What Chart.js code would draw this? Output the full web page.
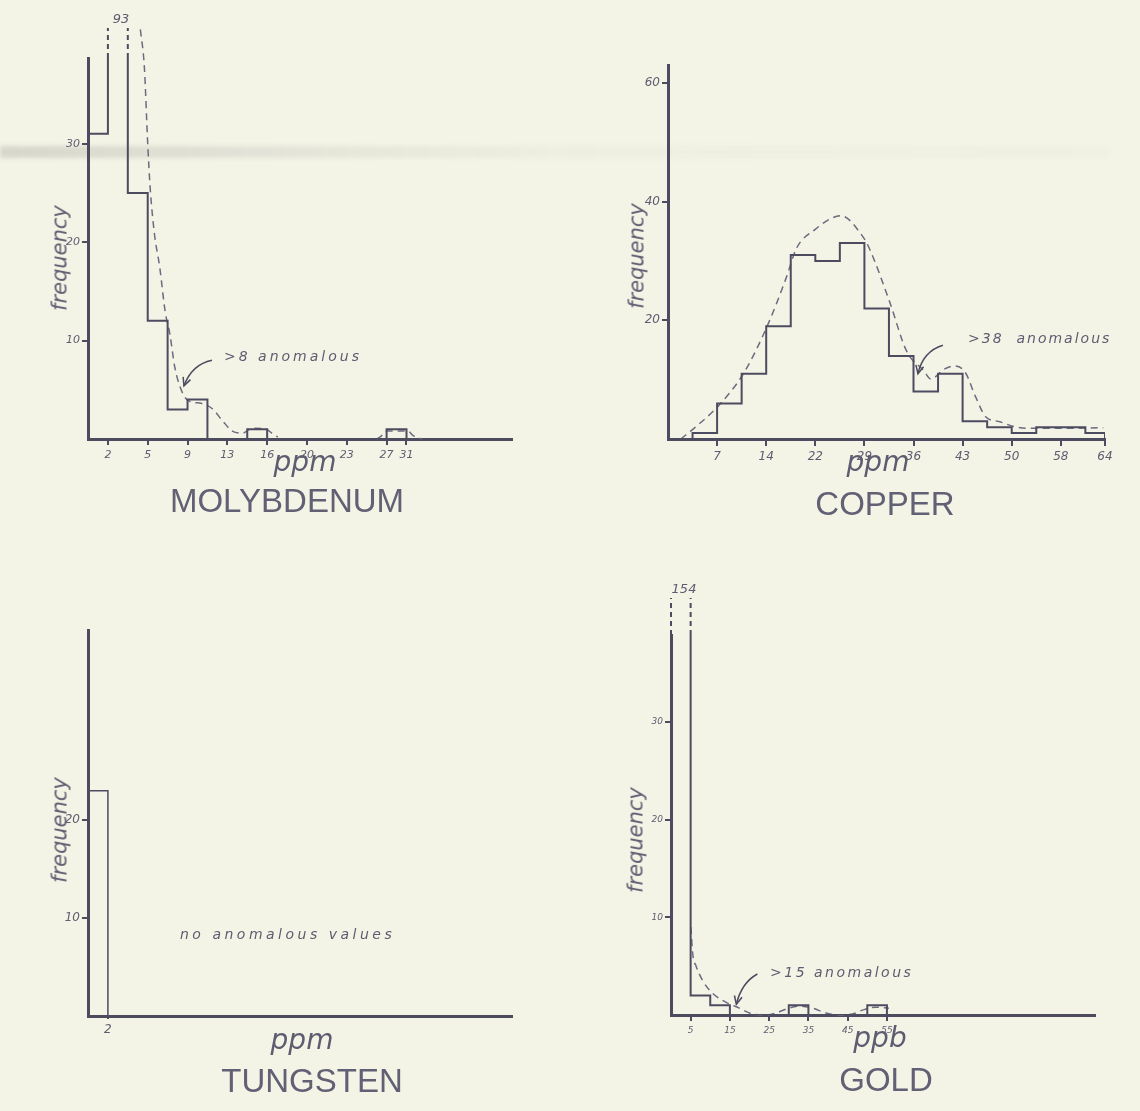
<!DOCTYPE html>
<html lang="en">
<head>
<meta charset="UTF-8">
<title>Frequency histograms - Mo, Cu, W, Au</title>
<script src="https://cdn.jsdelivr.net/npm/chart.js"></script>
<style>
  body { margin: 0; background: #f4f4e6; }
  #page { position: relative; width: 1140px; height: 1111px; overflow: hidden; background: #f4f4e6; }
  canvas.panel { position: absolute; left: 0; top: 0; }
  .t { position: absolute; color: #5e5c70; white-space: pre; line-height: 1; }
  .title { font-family: "Liberation Sans", Arial, sans-serif; font-size: 33px; color: #626074; transform: translate(-50%, -50%); }
  .freq { font-family: "DejaVu Sans", sans-serif; font-style: italic; font-size: 21px; transform: translate(-50%, -50%) rotate(-90deg); }
  .unit { font-family: "DejaVu Sans", sans-serif; font-style: italic; font-size: 28px; transform: translate(-50%, -50%); }
  .note { font-family: "DejaVu Sans", sans-serif; font-style: italic; font-size: 14px; letter-spacing: 3px; transform: translateY(-50%); }
  .top { font-family: "DejaVu Sans", sans-serif; font-style: italic; font-size: 13px; transform: translate(-50%, -50%); }
  .smudge { position: absolute; filter: blur(2px);
    background: linear-gradient(90deg, rgba(110,110,110,.22) 0%, rgba(130,130,130,.14) 25%, rgba(150,150,150,.06) 50%, rgba(150,150,150,.03) 100%); }
</style>
</head>
<body>
<div id="page">
  <div class="smudge" style="left:0;top:146px;width:1110px;height:12px"></div>

  <canvas class="panel" id="moChart" width="1140" height="1111"></canvas>
  <canvas class="panel" id="cuChart" width="1140" height="1111"></canvas>
  <canvas class="panel" id="wChart" width="1140" height="1111"></canvas>
  <canvas class="panel" id="auChart" width="1140" height="1111"></canvas>

  <!-- molybdenum -->
  <div class="t top" style="left:121px;top:18px">93</div>
  <div class="t freq" style="left:60px;top:258px">frequency</div>
  <div class="t unit" style="left:305px;top:462px">ppm</div>
  <div class="t title" style="left:287px;top:500px">MOLYBDENUM</div>
  <div class="t note" style="left:224px;top:356px">&gt;8 anomalous</div>

  <!-- copper -->
  <div class="t freq" style="left:637px;top:256px">frequency</div>
  <div class="t unit" style="left:878px;top:462px">ppm</div>
  <div class="t title" style="left:885px;top:503px">COPPER</div>
  <div class="t note" style="left:968px;top:338px;letter-spacing:2px">&gt;38  anomalous</div>

  <!-- tungsten -->
  <div class="t freq" style="left:60px;top:830px">frequency</div>
  <div class="t unit" style="left:302px;top:1040px">ppm</div>
  <div class="t title" style="left:312px;top:1080px">TUNGSTEN</div>
  <div class="t note" style="left:180px;top:934px;letter-spacing:3.5px">no anomalous values</div>

  <!-- gold -->
  <div class="t top" style="left:684px;top:588px">154</div>
  <div class="t freq" style="left:636px;top:840px">frequency</div>
  <div class="t unit" style="left:880px;top:1038px">ppb</div>
  <div class="t title" style="left:886px;top:1079px">GOLD</div>
  <div class="t note" style="left:770px;top:972px;letter-spacing:2.5px">&gt;15 anomalous</div>
</div>

<script>
// ---- data (bin index on x, frequency on y) ----

// molybdenum, ppm
const moFreq = [31, 93, 25, 12, 3, 4, 0, 0, 1, 0, 0, 0, 0, 0, 0, 1];
const moTickAt = [1, 3, 5, 7, 9, 11, 13, 15, 16];
const moTickLabels = ['2', '5', '9', '13', '16', '20', '23', '27', '31'];
const moYTicks = [10, 20, 30];
const moCurveX = [2.63, 2.83, 3.0, 3.12, 3.34, 3.6, 3.88, 4.11, 4.36, 4.7, 5.04, 5.72, 6.23, 6.74, 7.25, 7.76, 8.27, 8.95, 9.29, 9.54];
const moCurveY = [41.6, 37.8, 30, 25.6, 20.8, 17.5, 12.9, 10.7, 7.3, 4.9, 3.9, 3.6, 3.1, 1.9, 0.8, 0.6, 1.1, 1.0, 0.5, 0.2];
const moTailX = [14.5, 14.73, 14.98, 16.08, 16.3, 16.77];
const moTailY = [0, 0.3, 0.8, 0.8, 0.4, 0];

// copper, ppm
const cuFreq = [0, 1, 6, 11, 19, 31, 30, 33, 22, 14, 8, 11, 3, 2, 1, 2, 2, 1];
const cuTickAt = [2, 4, 6, 8, 10, 12, 14, 16, 17.8];
const cuTickLabels = ['7', '14', '22', '29', '36', '43', '50', '58', '64'];
const cuYTicks = [20, 40, 60];
const cuCurveX = [0.52, 1.06, 2.08, 3.1, 4.07, 4.81, 5.23, 5.93, 7.05, 7.9, 8.18, 9.02, 9.72, 10.42, 10.7, 11.27, 11.69, 12.11, 12.53, 12.95, 13.52, 14.08, 14.78, 16.18, 17.73];
const cuCurveY = [0, 1.8, 5.7, 11.2, 19.3, 27.1, 32.1, 35.1, 37.6, 34.3, 32.3, 23.2, 14.8, 11.5, 10.1, 11.8, 12.3, 11.2, 7.1, 3.7, 2.9, 2.1, 1.8, 1.8, 1.9];

// tungsten, ppm
const wFreq = [23];
const wTickAt = [1];
const wTickLabels = ['2'];
const wYTicks = [10, 20];

// gold, ppb
const auFreq = [154, 2, 1, 0, 0, 0, 1, 0, 0, 0, 1];
const auTickAt = [1, 3, 5, 7, 9, 11];
const auTickLabels = ['5', '15', '25', '35', '45', '55'];
const auYTicks = [10, 20, 30];
const auCurveX = [1.01, 1.11, 1.28, 1.62, 2.13, 2.81, 3.48, 4.15, 4.84, 5.35, 5.86, 6.54, 7.21, 7.89, 8.57, 9.25, 9.76, 10.44, 11.1];
const auCurveY = [9, 6.2, 5, 3.5, 2.2, 1.3, 0.7, 0.1, 0, 0.2, 0.6, 0.9, 0.7, 0.2, 0, 0.1, 0.5, 0.8, 0.7];

const INK = '#4d4b60';
const TEXT = '#5e5c70';
const CURVE = '#6c6a7e';

function pts(xs, ys) { return xs.map((x, i) => ({x: x, y: ys[i]})); }

// dashed tops of cut-off bars and the little arrows
const extras = {
    id: 'extras',
    afterDatasetsDraw(chart, args, o) {
        const ctx = chart.ctx, xs = chart.scales.x, ys = chart.scales.y, top = chart.chartArea.top;
        ctx.save();
        ctx.strokeStyle = INK;
        if (o.brokenBin != null) {
            ctx.lineWidth = 2;
            ctx.setLineDash([5, 4]);
            [o.brokenBin, o.brokenBin + 1].forEach(e => {
                const px = xs.getPixelForValue(e);
                ctx.beginPath(); ctx.moveTo(px, top); ctx.lineTo(px, top - o.rise); ctx.stroke();
            });
        }
        if (o.arrow) {
            ctx.setLineDash([]);
            ctx.lineWidth = 1.5;
            const [a, c, b] = o.arrow.map(p => [xs.getPixelForValue(p[0]), ys.getPixelForValue(p[1])]);
            ctx.beginPath(); ctx.moveTo(a[0], a[1]); ctx.quadraticCurveTo(c[0], c[1], b[0], b[1]); ctx.stroke();
            const ang = Math.atan2(b[1] - c[1], b[0] - c[0]);
            ctx.beginPath();
            ctx.moveTo(b[0] - 9 * Math.cos(ang - 0.45), b[1] - 9 * Math.sin(ang - 0.45));
            ctx.lineTo(b[0], b[1]);
            ctx.lineTo(b[0] - 9 * Math.cos(ang + 0.45), b[1] - 9 * Math.sin(ang + 0.45));
            ctx.stroke();
        }
        ctx.restore();
    }
};

function histogram(id, p) {
    // step outline: up at the first edge, across each bin, down at the last edge
    const steps = [{x: 0, y: 0}];
    p.freq.forEach((f, i) => steps.push({x: i, y: f}));
    steps.push({x: Math.min(p.freq.length, p.xMax), y: 0});

    const datasets = [{
        data: steps,
        stepped: 'before',
        borderColor: INK,
        borderWidth: p.barWidth || 2,
        pointRadius: 0,
        fill: false
    }];
    if (p.curve) {
        datasets.push({
            data: p.curve,
            borderColor: CURVE,
            borderWidth: 1.5,
            borderDash: [7, 5],
            cubicInterpolationMode: 'monotone',
            spanGaps: false,
            pointRadius: 0,
            fill: false,
            clip: false
        });
    }

    const f = p.frame;
    const tickFont = {family: 'DejaVu Sans', style: 'italic', size: p.tickSize};
    return new Chart(document.getElementById(id), {
        type: 'line',
        data: {datasets: datasets},
        plugins: [extras],
        options: {
            responsive: false,
            animation: false,
            events: [],
            layout: {padding: {left: f.left - 40, right: 1140 - f.right, top: f.top, bottom: 1111 - f.bottom - 40}},
            plugins: {
                legend: {display: false},
                tooltip: {enabled: false},
                extras: p.extras || {}
            },
            scales: {
                x: {
                    type: 'linear', min: 0, max: p.xMax,
                    afterBuildTicks: s => { s.ticks = p.tickAt.map(v => ({value: v})); },
                    afterFit: s => { s.height = 40; },
                    ticks: {callback: (v, i) => p.tickLabels[i], font: tickFont, color: TEXT, padding: 4, maxRotation: 0, autoSkip: false},
                    grid: {display: true, drawOnChartArea: false, drawTicks: true, tickLength: p.xTickLen, color: INK, lineWidth: 2},
                    border: {display: true, color: INK, width: 3}
                },
                y: {
                    type: 'linear', min: 0, max: p.yMax,
                    afterBuildTicks: s => { s.ticks = p.yTicks.map(v => ({value: v})); },
                    afterFit: s => { s.width = 40; },
                    ticks: {font: tickFont, color: TEXT, padding: 2},
                    grid: {display: true, drawOnChartArea: false, drawTicks: true, tickLength: 6, color: INK, lineWidth: 2},
                    border: {display: true, color: INK, width: 3}
                }
            }
        }
    });
}

histogram('moChart', {
    freq: moFreq, tickAt: moTickAt, tickLabels: moTickLabels, yTicks: moYTicks,
    curve: pts(moCurveX, moCurveY).concat([{x: 12, y: null}], pts(moTailX, moTailY)),
    xMax: 21.3, yMax: 38.7, tickSize: 11, xTickLen: 6,
    frame: {left: 88, right: 512, top: 58, bottom: 439},
    extras: {brokenBin: 1, rise: 30, arrow: [[6.23, 8.0], [5.23, 7.6], [4.82, 5.4]]}
});

histogram('cuChart', {
    freq: cuFreq, tickAt: cuTickAt, tickLabels: cuTickLabels, yTicks: cuYTicks,
    curve: pts(cuCurveX, cuCurveY),
    xMax: 17.8, yMax: 63, tickSize: 12, xTickLen: 7,
    frame: {left: 668, right: 1105, top: 65, bottom: 439},
    extras: {arrow: [[11.2, 15.8], [10.39, 14.8], [10.18, 11]]}
});

histogram('wChart', {
    freq: wFreq, tickAt: wTickAt, tickLabels: wTickLabels, yTicks: wYTicks,
    xMax: 21.3, yMax: 39.4, tickSize: 12, xTickLen: 3, barWidth: 1.5,
    frame: {left: 88, right: 512, top: 630, bottom: 1016}
});

histogram('auChart', {
    freq: auFreq, tickAt: auTickAt, tickLabels: auTickLabels, yTicks: auYTicks,
    curve: pts(auCurveX, auCurveY),
    xMax: 21.6, yMax: 38.9, tickSize: 9, xTickLen: 6,
    frame: {left: 671, right: 1095, top: 635, bottom: 1015},
    extras: {brokenBin: 0, rise: 37, arrow: [[4.4, 4.2], [3.59, 3.3], [3.33, 1.1]]}
});
</script>
</body>
</html>
